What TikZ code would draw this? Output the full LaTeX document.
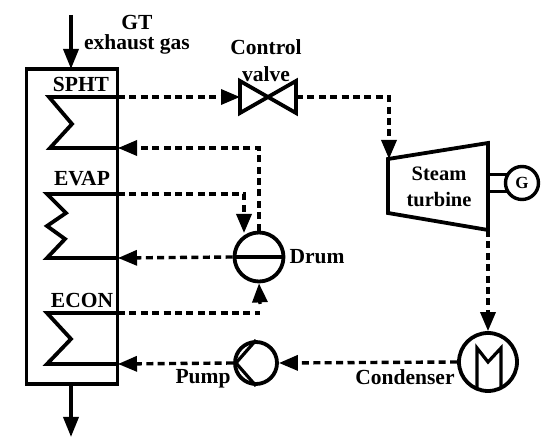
\documentclass[tikz,border=0pt]{standalone}
\usepackage{fontspec}
\setmainfont{Liberation Serif}
\usetikzlibrary{arrows.meta}
\tikzset{
  solidline/.style={line width=3.8pt,line join=miter,line cap=round},
  thinpart/.style={line width=3.2pt,line join=miter},
  flow/.style={line width=3.4pt,dash pattern=on 7pt off 4.4pt,-{Triangle[length=19pt,width=15pt]}},
  flowplain/.style={line width=3.4pt,dash pattern=on 7pt off 4.4pt},
  gas/.style={line width=3.6pt,-{Triangle[length=20pt,width=15pt]}},
  lbl/.style={font=\fontsize{21.5}{23}\selectfont\bfseries,inner sep=0pt,align=center},
  equip/.style={circle,draw,line width=3.8pt,inner sep=0pt,fill=white}
}
\begin{document}
\begin{tikzpicture}[x=1pt,y=-1pt]
\useasboundingbox (0,0) rectangle (550,443);
% named ports
\coordinate (gasin) at (71,15);
\coordinate (gasouttip) at (71,437);
\coordinate (boxtop) at (71,69);
\coordinate (boxbot) at (71,384);
\coordinate (sphtout) at (118,97);
\coordinate (sphtin) at (118,148);
\coordinate (evapout) at (118,194);
\coordinate (evapin) at (118,258);
\coordinate (econout) at (118,313);
\coordinate (econin) at (118,364);
% casing
\node[draw,line width=3.8pt,outer sep=0pt,minimum width=91pt,minimum height=315pt,inner sep=0pt,anchor=north west] (hrsg) at (26.5,69) {};
% coils
\draw[solidline] (sphtout) -- (49,97) -- (72,124) -- (50,148) -- (sphtin);
\draw[solidline] (evapout) -- (47,194) -- (66,213) -- (47,226) -- (65,239) -- (47,258) -- (evapin);
\draw[solidline] (econout) -- (47,313) -- (71,339) -- (47,364) -- (econin);
% gas arrows
\draw[gas] (gasin) -- (boxtop);
\draw[gas] (boxbot) -- (gasouttip);
% equipment
\node[equip,minimum size=49pt] (drum) at (259,257) {};
\draw[solidline,line cap=butt] (drum.west) -- (drum.east);
\node[equip,minimum size=42pt] (pump) at (256,363) {};
\draw[thinpart] (pump.north) -- (236,363) -- (pump.south);
\node[equip,minimum size=58pt] (cond) at (488,362) {};
\draw[thinpart] (477,389) -- (477,348) -- (488,362) -- (501,348) -- (501,389);
% valve
\coordinate (vc) at (268,97);
\coordinate (vl) at (240,97);
\coordinate (vr) at (296,97);
\draw[solidline] (vc) -- (240,81) -- (240,113) -- (296,81) -- (296,113) -- cycle;
% turbine
\coordinate (tin) at (389,159);
\coordinate (tout) at (488,230);
\draw[solidline,line cap=butt] (388,159) -- (488,143) -- (488,230) -- (388,213) -- cycle;
\node[equip,line width=3.4pt,minimum size=33pt,font=\fontsize{17}{19}\selectfont\bfseries] (gen) at (522,183) {G};
\draw[line width=3pt] (488,175) -- (507,175);
\draw[line width=3pt] (488,192) -- (507,192);
% steam connectors
\draw[flow] (sphtout) -- (vl);
\draw[flow] (vr) -- (389,97) -- (tin);
\draw[flow] (drum.north) -- (259,148) -- (sphtin);
\draw[flow] (evapout) -- (244,194) -- (244,233);
\draw[flow] (drum.west) -- (evapin);
\draw[flowplain] (econout) -- (260,313);
\draw[-{Triangle[length=19pt,width=15pt]},line width=3.4pt] (260,304) -- (drum.south);
\draw[flow] (tout) -- (cond.north);
\draw[flow] (cond.west) -- (pump.east);
\draw[flow] (pump.west) -- (econin);
% labels
\node[lbl] (t1) at (137,22) {GT};
\node[lbl] (t2) at (137,44) {exhaust gas};
\node[lbl] (t3) at (266,47) {Control};
\node[lbl] (t4) at (266,74) {valve};
\node[lbl] (t5) at (81,84) {SPHT};
\node[lbl] (t6) at (82,179) {EVAP};
\node[lbl] (t7) at (82,300) {ECON};
\node[lbl] (t8) at (203,379) {Pump};
\node[lbl] (t9) at (317,257) {Drum};
\node[lbl] (t10) at (405,377) {Condenser};
\node[lbl,font=\fontsize{20.5}{22}\selectfont\bfseries] (t11) at (439,174) {Steam};
\node[lbl,font=\fontsize{20.5}{22}\selectfont\bfseries] (t12) at (439,200) {turbine};
\end{tikzpicture}
\end{document}
